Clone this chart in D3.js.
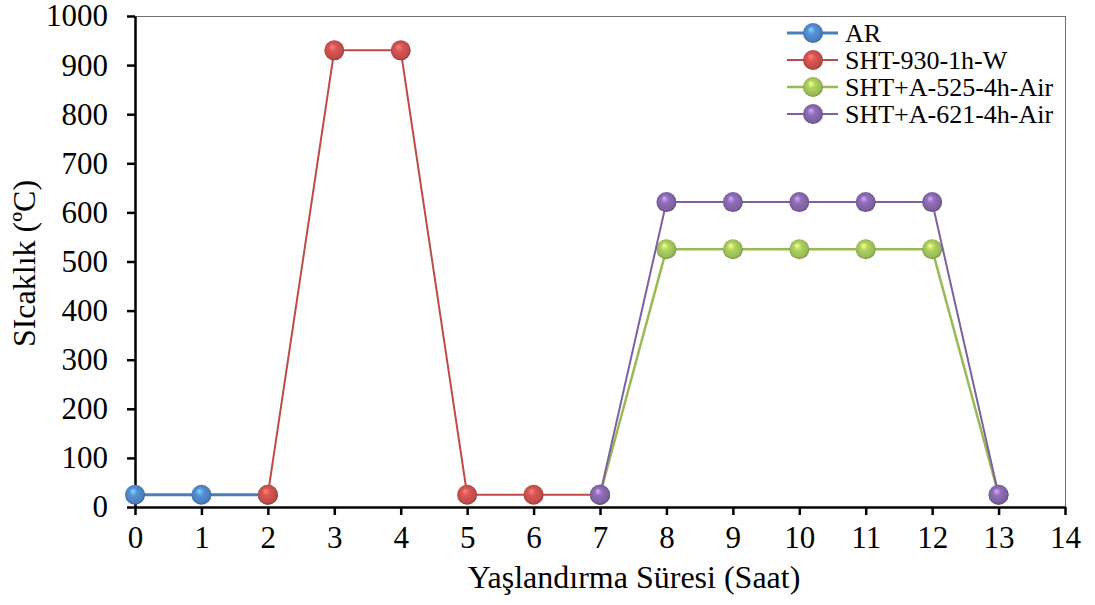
<!DOCTYPE html>
<html>
<head>
<meta charset="utf-8">
<script src="https://cdn.jsdelivr.net/npm/d3@7"></script>
<style>
  html, body { margin: 0; padding: 0; background: #fff; }
  svg text { font-family: "Liberation Serif", "Times New Roman", serif; fill: #000; }
</style>
</head>
<body>
<svg id="chart" width="1095" height="605"></svg>
<script>
// Heat-treatment temperature profiles (time in hours, temperature in °C)
const seriesNames = ["AR", "SHT-930-1h-W", "SHT+A-525-4h-Air", "SHT+A-621-4h-Air"];
const arTime = [0, 1, 2];
const arTemp = [25, 25, 25];
const shtTime = [2, 3, 4, 5, 6, 7];
const shtTemp = [25, 930, 930, 25, 25, 25];
const a525Time = [7, 8, 9, 10, 11, 12, 13];
const a525Temp = [25, 525, 525, 525, 525, 525, 25];
const a621Time = [7, 8, 9, 10, 11, 12, 13];
const a621Temp = [25, 621, 621, 621, 621, 621, 25];
const xTicks = d3.range(0, 15, 1);
const yTicks = d3.range(0, 1001, 100);
const xTitle = "Yaşlandırma Süresi (Saat)";
const yTitle = "SIcaklık (ºC)";

const colors = ["#4a7ebb", "#be4b48", "#98b954", "#7d60a0"];
const lineWidths = [3, 2, 2.5, 2];

const series = [
  { name: seriesNames[0], x: arTime, y: arTemp },
  { name: seriesNames[1], x: shtTime, y: shtTemp },
  { name: seriesNames[2], x: a525Time, y: a525Temp },
  { name: seriesNames[3], x: a621Time, y: a621Temp }
];

const svg = d3.select("#chart");
const plot = { left: 135, right: 1065, top: 16, bottom: 507 };

const x = d3.scaleLinear().domain([0, 14]).range([plot.left, plot.right]);
const y = d3.scaleLinear().domain([0, 1000]).range([plot.bottom, plot.top]);

// Sphere-like gradients for markers
const defs = svg.append("defs");
series.forEach((s, i) => {
  const base = d3.color(colors[i]);
  const g = defs.append("radialGradient")
    .attr("id", "ball" + i)
    .attr("cx", "0.5").attr("cy", "0.5").attr("r", "0.55")
    .attr("fx", "0.38").attr("fy", "0.3");
  g.append("stop").attr("offset", "0%").attr("stop-color", base.brighter(1.6));
  g.append("stop").attr("offset", "35%").attr("stop-color", base.brighter(0.4));
  g.append("stop").attr("offset", "80%").attr("stop-color", base);
  g.append("stop").attr("offset", "100%").attr("stop-color", base.darker(1.2));
});

// Frame: thin top and right borders
svg.append("line")
  .attr("x1", plot.left).attr("x2", plot.right)
  .attr("y1", plot.top + 0.5).attr("y2", plot.top + 0.5)
  .attr("stroke", "#6e6e6e").attr("stroke-width", 1);
svg.append("line")
  .attr("x1", plot.right + 0.5).attr("x2", plot.right + 0.5)
  .attr("y1", plot.top).attr("y2", plot.bottom)
  .attr("stroke", "#6e6e6e").attr("stroke-width", 1);

// Axes
const xAxis = d3.axisBottom(x).tickValues(xTicks).tickFormat(d3.format("d"))
  .tickSize(8).tickSizeOuter(0).tickPadding(11);
const yAxis = d3.axisLeft(y).tickValues(yTicks).tickFormat(d3.format("d"))
  .tickSize(8).tickSizeOuter(0).tickPadding(19);

const gx = svg.append("g").attr("transform", `translate(0,${plot.bottom})`).call(xAxis);
const gy = svg.append("g").attr("transform", `translate(${plot.left},0)`).call(yAxis);
[gx, gy].forEach(g => {
  g.attr("font-family", null).attr("font-size", null);
  g.select(".domain").attr("stroke", "#000").attr("stroke-width", 2.5);
  g.selectAll(".tick line").attr("stroke", "#000").attr("stroke-width", 2.5);
  g.selectAll(".tick text").style("font-size", "31px");
});

// Axis titles
svg.append("text")
  .attr("x", 634).attr("y", 588)
  .attr("text-anchor", "middle").style("font-size", "32px").text(xTitle);
svg.append("text")
  .attr("transform", `translate(35,${(plot.top + plot.bottom) / 2 + 2}) rotate(-90)`)
  .attr("text-anchor", "middle").style("font-size", "32px").text(yTitle);

// Lines then markers, series in order
const line = d3.line().x(d => x(d[0])).y(d => y(d[1]));
const r = 10;
series.forEach((s, i) => {
  const pts = s.x.map((t, k) => [t, s.y[k]]);
  svg.append("path").datum(pts)
    .attr("d", line).attr("fill", "none")
    .attr("stroke", colors[i]).attr("stroke-width", lineWidths[i]);
  svg.append("g").selectAll("circle").data(pts).join("circle")
    .attr("cx", d => x(d[0])).attr("cy", d => y(d[1])).attr("r", r)
    .attr("fill", `url(#ball${i})`);
});

// Legend
const legend = svg.append("g");
series.forEach((s, i) => {
  const ly = 33 + i * 27;
  legend.append("line")
    .attr("x1", 787).attr("x2", 838).attr("y1", ly).attr("y2", ly)
    .attr("stroke", colors[i]).attr("stroke-width", lineWidths[i]);
  legend.append("circle")
    .attr("cx", 813).attr("cy", ly).attr("r", r)
    .attr("fill", `url(#ball${i})`);
  legend.append("text")
    .attr("x", 845).attr("y", ly + 9)
    .style("font-size", "26px").text(s.name);
});
</script>
</body>
</html>
